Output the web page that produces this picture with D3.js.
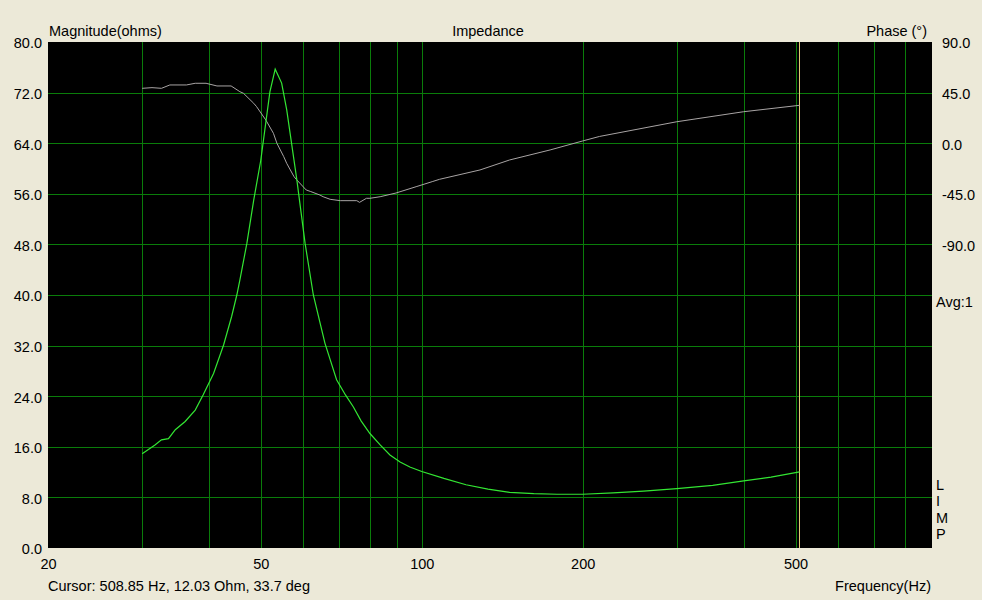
<!DOCTYPE html>
<html>
<head>
<meta charset="utf-8">
<script src="https://cdn.jsdelivr.net/npm/d3@7"></script>
<style>
  body { margin: 0; background: #ECE9D8; }
  svg text { font-family: "Liberation Sans", Arial, sans-serif; font-size: 14.5px; fill: #000; }
</style>
</head>
<body>
<svg id="chart" width="982" height="600"></svg>
<script>
// impedance magnitude
var magHz  = [30, 31.7, 32.6, 33.6, 34.6, 36.1, 37.7, 39.0, 40.8, 42.6, 44.1, 45.1, 45.7, 47.1, 48.5, 50.0, 52.0, 53.2, 54.7, 55.9, 58.4, 60.5, 62.7, 65.9, 69.3, 72, 74.5, 77, 80, 83.6, 87.2, 91.1, 95, 100, 110, 121, 133, 146, 162, 179, 200, 228, 260, 300, 350, 400, 450, 508.85];
var magOhm = [14.9, 16.3, 17.1, 17.3, 18.7, 20.0, 21.8, 24.2, 27.6, 32.1, 36.6, 40.0, 42.4, 48.2, 55.0, 61.3, 72.1, 75.7, 73.5, 69.3, 58.2, 48.2, 40.0, 32.4, 26.6, 24.2, 22.3, 20.1, 18.1, 16.3, 14.7, 13.6, 12.8, 12.1, 11.0, 10.0, 9.3, 8.8, 8.6, 8.5, 8.5, 8.7, 9.0, 9.4, 9.9, 10.6, 11.2, 12.03];

// phase
var phaseHz  = [30, 31.3, 32.6, 33.8, 36.3, 37.7, 39.5, 41.4, 44.0, 45.7, 46.4, 48.5, 49.1, 51.1, 52.8, 53.6, 55.2, 55.9, 57.7, 58.4, 60.8, 62, 64.5, 65.4, 67.4, 70.4, 75.6, 76.5, 78.8, 80, 83.6, 89.5, 97.6, 104.6, 108, 128.5, 146, 173.8, 200, 215, 300, 400, 508.85];
var phaseDeg = [48.8, 49.4, 48.8, 51.8, 51.8, 53.3, 53.3, 50.9, 50.9, 45.8, 44.4, 35.5, 32.5, 20.6, 8.8, -0.1, -12, -17.9, -29.8, -32.7, -41.6, -43, -46.1, -47.6, -49.9, -51.1, -51.1, -52.6, -49, -49, -47.6, -44.3, -38.7, -34.2, -32.1, -23.8, -14.9, -6.0, 2.0, 6.0, 19.1, 28.0, 33.7];

var magTicks = [0, 8, 16, 24, 32, 40, 48, 56, 64, 72, 80];
var phaseTicks = [90, 45, 0, -45, -90];
var freqLabels = [20, 50, 100, 200, 500];
var freqGrid = [30, 40, 50, 60, 70, 80, 90, 100, 200, 300, 400, 500, 600, 700, 800];
var cursorHz = 508.85;

var plotL = 48, plotR = 932, plotT = 42, plotB = 548;

var svg = d3.select('#chart');
svg.append('rect').attr('width', 982).attr('height', 600).attr('fill', '#ECE9D8');

var x = d3.scaleLog().domain([20, 900]).range([plotL, plotR]);
var yMag = d3.scaleLinear().domain([0, 80]).range([plotB, plotT]);
var yPh = d3.scaleLinear().domain([-360, 90]).range([plotB, plotT]);

svg.append('rect')
	.attr('x', plotL).attr('y', plotT)
	.attr('width', plotR - plotL).attr('height', plotB - plotT)
	.attr('fill', '#000');

// grid
var gx = svg.append('g')
	.attr('transform', 'translate(0,' + plotB + ')')
	.call(d3.axisBottom(x).tickValues(freqGrid).tickSize(-(plotB - plotT)).tickFormat(''));
var gy = svg.append('g')
	.attr('transform', 'translate(' + plotL + ',0)')
	.call(d3.axisLeft(yMag).tickValues(magTicks.filter(function(d){ return d > 0 && d < 80; })).tickSize(-(plotR - plotL)).tickFormat(''));
[gx, gy].forEach(function(g) {
	g.select('.domain').remove();
	g.selectAll('line').attr('stroke', '#0a7c0a').attr('shape-rendering', 'crispEdges');
});

// curves
svg.append('defs').append('clipPath').attr('id', 'plotclip')
	.append('rect').attr('x', plotL).attr('y', plotT).attr('width', plotR - plotL).attr('height', plotB - plotT);

var magLine = d3.line()
	.x(function(d, i) { return x(magHz[i]); })
	.y(function(d) { return yMag(d); });
var phLine = d3.line()
	.x(function(d, i) { return x(phaseHz[i]); })
	.y(function(d) { return yPh(d); });

var plot = svg.append('g').attr('clip-path', 'url(#plotclip)');
plot.append('line')
	.attr('x1', Math.round(x(cursorHz)) - 0.5).attr('x2', Math.round(x(cursorHz)) - 0.5)
	.attr('y1', plotT).attr('y2', plotB)
	.attr('stroke', '#e6c878').attr('stroke-width', 1);
plot.append('path').datum(phaseDeg)
	.attr('d', phLine)
	.attr('fill', 'none').attr('stroke', '#a8a4a4').attr('stroke-width', 1);
plot.append('path').datum(magOhm)
	.attr('d', magLine)
	.attr('fill', 'none').attr('stroke', '#33e633').attr('stroke-width', 1.2);

// axes labels (hyphen minus like the original)
var fmt = function(d) { return d3.format('.1f')(d).replace('\u2212', '-'); };
var axL = svg.append('g')
	.attr('transform', 'translate(' + plotL + ',0)')
	.call(d3.axisLeft(yMag).tickValues(magTicks).tickSize(0).tickPadding(6).tickFormat(fmt));
var axR = svg.append('g')
	.attr('transform', 'translate(' + plotR + ',0)')
	.call(d3.axisRight(yPh).tickValues(phaseTicks).tickSize(0).tickPadding(10).tickFormat(fmt));
var axB = svg.append('g')
	.attr('transform', 'translate(0,' + plotB + ')')
	.call(d3.axisBottom(x).tickValues(freqLabels).tickSize(0).tickPadding(11).tickFormat(d3.format('d')));
[axL, axR, axB].forEach(function(g) {
	g.select('.domain').remove();
	g.selectAll('text').attr('font-family', null).attr('font-size', null).attr('fill', '#000');
});
axL.selectAll('text').attr('dy', '0.4em');
axR.selectAll('text').attr('dy', '0.4em');

svg.append('text').attr('x', 49).attr('y', 36).text('Magnitude(ohms)');
svg.append('text').attr('x', 488).attr('y', 36).attr('text-anchor', 'middle').text('Impedance');
svg.append('text').attr('x', 927).attr('y', 36).attr('text-anchor', 'end').text('Phase (°)');
svg.append('text').attr('x', 936).attr('y', 307).text('Avg:1');
['L', 'I', 'M', 'P'].forEach(function(c, i) {
	svg.append('text').attr('x', 936).attr('y', 490 + i * 16.3).text(c);
});
svg.append('text').attr('x', 48).attr('y', 591).text('Cursor: 508.85 Hz, 12.03 Ohm, 33.7 deg');
svg.append('text').attr('x', 931).attr('y', 591).attr('text-anchor', 'end').text('Frequency(Hz)');
</script>
</body>
</html>
